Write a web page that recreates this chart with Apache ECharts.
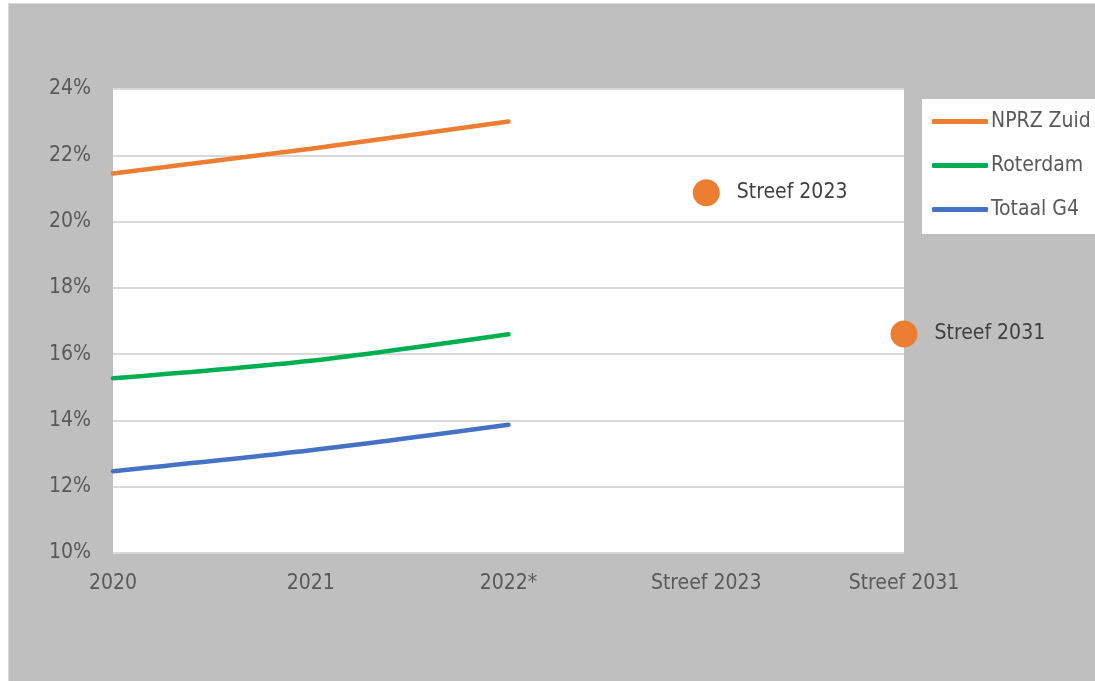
<!DOCTYPE html>
<html>
<head>
<meta charset="utf-8">
<script src="https://cdn.jsdelivr.net/npm/echarts@6/dist/echarts.min.js"></script>
<style>
  html, body { margin: 0; padding: 0; background: #fff; overflow: hidden; }
  #frame { position: absolute; left: 8px; top: 3px; width: 1200px; height: 800px;
           background: #BFBFBF; border: 1px solid #D9D9D9; }
  #chart { position: absolute; left: 0; top: 0; width: 1095px; height: 681px; }
</style>
</head>
<body>
<div id="frame"></div>
<div id="chart"></div>
<script>
  // categorieen op de x-as
  var categories = ['2020', '2021', '2022*', 'Streef 2023', 'Streef 2031']
  // percentages per reeks
  var nprzZuid = [21.45, 22.2, 23.02]
  var rotterdam = [15.27, 15.8, 16.6]
  var totaalG4 = [12.47, 13.1, 13.87]
  // streefwaarden
  var streefCats = ['Streef 2023', 'Streef 2031']
  var streefValues = [20.87, 16.61]
  var yTicks = { min: 10, max: 24, interval: 2 }

  var fontFam = '"DejaVu Sans Condensed", "Liberation Sans", sans-serif'
  var textColor = '#595959'
  var fs = 21

  var chart = echarts.init(document.getElementById('chart'), null, { renderer: 'canvas' })

  function lineSeries(name, data, color) {
    return {
      name: name,
      type: 'line',
      data: data,
      smooth: 0.3,
      showSymbol: false,
      symbol: 'none',
      lineStyle: { color: color, width: 4.5, cap: 'round' },
      itemStyle: { color: color },
      z: 3
    }
  }

  chart.setOption({
    backgroundColor: 'transparent',
    animation: false,
    textStyle: { fontFamily: fontFam },
    grid: {
      left: 113, right: 191, top: 89, bottom: 128,
      show: true, backgroundColor: '#fff', borderWidth: 0
    },
    legend: {
      orient: 'vertical',
      left: 922, top: 99,
      backgroundColor: '#fff',
      padding: [12, 20, 14, 10],
      itemWidth: 56, itemHeight: 5,
      itemGap: 23,
      icon: 'roundRect',
      data: ['NPRZ Zuid', 'Roterdam', 'Totaal G4'],
      textStyle: { color: textColor, fontSize: fs, fontFamily: fontFam, padding: [0, 0, 0, -2] }
    },
    xAxis: {
      type: 'category',
      data: categories,
      boundaryGap: false,
      axisLine: { show: false },
      axisTick: { show: false },
      axisLabel: { color: textColor, fontSize: fs, margin: 20, fontFamily: fontFam }
    },
    yAxis: {
      type: 'value',
      min: yTicks.min, max: yTicks.max, interval: yTicks.interval,
      axisLine: { show: false },
      axisTick: { show: false },
      splitLine: { lineStyle: { color: '#D9D9D9', width: 2 } },
      axisLabel: { color: textColor, fontSize: fs, margin: 22, fontFamily: fontFam,
                   formatter: function (v) { return v + '%' } }
    },
    series: [
      lineSeries('NPRZ Zuid', nprzZuid, '#ED7D31'),
      lineSeries('Roterdam', rotterdam, '#00B050'),
      lineSeries('Totaal G4', totaalG4, '#4472C4'),
      {
        name: 'Streef',
        type: 'scatter',
        clip: false,
        symbolSize: 27,
        data: streefCats.map(function (c, i) { return [c, streefValues[i]] }),
        itemStyle: { color: '#ED7D31', opacity: 1 },
        label: {
          show: true,
          position: 'right',
          distance: 17,
          color: '#404040',
          fontSize: fs,
          fontFamily: fontFam,
          formatter: function (p) { return p.data[0] }
        },
        z: 4
      }
    ]
  })
</script>
</body>
</html>
